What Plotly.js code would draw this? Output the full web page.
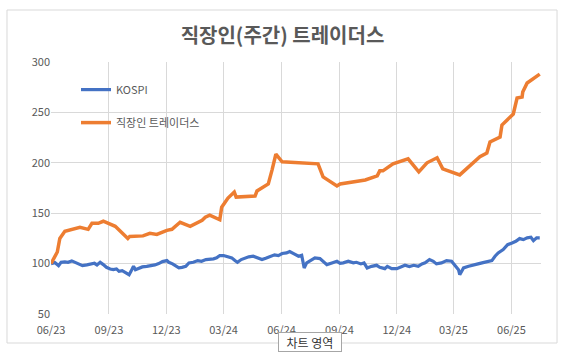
<!DOCTYPE html>
<html>
<head>
<meta charset="utf-8">
<script src="https://cdn.plot.ly/plotly-3.0.1.min.js"></script>
<style>html,body{margin:0;padding:0;background:#fff;}#chart{width:565px;height:353px;}</style>
</head>
<body>
<div id="chart"></div>
<script>
const chartTitle = "직장인(주간) 트레이더스";
const seriesNames = ["KOSPI", "직장인 트레이더스"];
const yTicks = [50, 100, 150, 200, 250, 300];

const traderDates = ["2023-06-01","2023-06-11","2023-06-15","2023-06-23","2023-07-17","2023-07-30","2023-08-05","2023-08-15","2023-08-23","2023-09-11","2023-10-01","2023-10-04","2023-10-25","2023-11-05","2023-11-16","2023-12-02","2023-12-10","2023-12-23","2024-01-08","2024-01-27","2024-02-01","2024-02-08","2024-02-24","2024-02-27","2024-03-08","2024-03-18","2024-03-21","2024-04-20","2024-04-23","2024-05-11","2024-05-17","2024-05-23","2024-06-02","2024-06-14","2024-07-29","2024-08-06","2024-08-28","2024-09-02","2024-10-12","2024-10-31","2024-11-04","2024-11-09","2024-11-25","2024-12-19","2025-01-05","2025-01-18","2025-02-03","2025-02-12","2025-03-11","2025-04-12","2025-04-23","2025-04-28","2025-05-14","2025-05-17","2025-06-04","2025-06-10","2025-06-18","2025-06-19","2025-06-26","2025-07-16"];
const traderValues = [100,111.5,125,132,136,134,140,140,142,137,125,127,127.5,130,129,133,134,141,137,143,146,148,143.5,156,165,171,166,167,172,179,193,208.5,201,200.5,199,186,177,179,183,187,192,192,199,204,191,200,205,194,188,206,209.7,220.6,225.6,237.5,248.4,264.3,265.3,270.2,279.2,288];

const kospiDates = ["2023-06-01","2023-06-07","2023-06-13","2023-06-17","2023-06-23","2023-06-28","2023-07-04","2023-07-09","2023-07-14","2023-07-21","2023-07-28","2023-08-04","2023-08-09","2023-08-13","2023-08-18","2023-08-23","2023-08-28","2023-09-03","2023-09-08","2023-09-13","2023-09-17","2023-09-22","2023-09-28","2023-10-03","2023-10-06","2023-10-10","2023-10-13","2023-10-19","2023-10-24","2023-10-31","2023-11-07","2023-11-13","2023-11-19","2023-11-25","2023-12-02","2023-12-05","2023-12-11","2023-12-16","2023-12-21","2023-12-26","2024-01-01","2024-01-06","2024-01-13","2024-01-20","2024-01-26","2024-02-02","2024-02-08","2024-02-14","2024-02-19","2024-02-24","2024-03-01","2024-03-08","2024-03-14","2024-03-19","2024-03-23","2024-03-29","2024-04-04","2024-04-10","2024-04-17","2024-04-24","2024-05-01","2024-05-07","2024-05-14","2024-05-21","2024-05-27","2024-06-02","2024-06-09","2024-06-14","2024-06-21","2024-06-28","2024-07-03","2024-07-07","2024-07-11","2024-07-16","2024-07-24","2024-08-01","2024-08-06","2024-08-12","2024-08-20","2024-08-28","2024-09-02","2024-09-07","2024-09-15","2024-09-23","2024-09-28","2024-10-05","2024-10-10","2024-10-15","2024-10-22","2024-10-30","2024-11-04","2024-11-12","2024-11-16","2024-11-23","2024-12-01","2024-12-09","2024-12-14","2024-12-21","2024-12-28","2025-01-04","2025-01-10","2025-01-15","2025-01-22","2025-01-28","2025-02-02","2025-02-10","2025-02-18","2025-02-26","2025-03-03","2025-03-09","2025-03-11","2025-03-17","2025-03-25","2025-04-02","2025-04-09","2025-04-17","2025-04-25","2025-05-01","2025-05-06","2025-05-11","2025-05-19","2025-05-26","2025-06-02","2025-06-08","2025-06-14","2025-06-20","2025-06-26","2025-07-02","2025-07-06","2025-07-11","2025-07-16"];
const kospiValues = [100,101,98,101.3,101.7,101.3,102.7,101.3,100,98,98.7,100,100.3,98.7,101.3,99,96.3,94.7,94,94.7,92.3,93,90.8,89,92.3,97.3,94,95.7,96.7,97.3,98,98.7,100,102,103,101.3,99.7,97.3,95.7,96.3,97.3,100.7,101.3,103,102.3,104,104,104.7,105.7,108,108,106.7,105.7,103,101.3,104,105.3,106.7,107.3,105.7,104,105.3,107.3,108.7,108,110,110.6,112,109.6,107.3,108.3,95.7,100.7,103,105.7,105,102.3,99,100.7,102.3,100.3,100.7,102.3,100.7,101.3,99.7,100.7,95.7,97.3,98.3,96.3,95,97.3,95,95,96.7,98.3,97,98.3,97.3,99.7,100.7,104,102.3,99.7,100.7,103,102.3,99,94,89,95.7,97.3,98.3,99.7,101,101.7,103,107.3,110.6,113.9,118.8,120.5,122.1,124.8,123.8,125.5,126.1,122.8,125.5,125.5];

const xStart = "2023-06-01";
const xEnd = "2025-07-18";

const gray = "#595959";
const font = "'Noto Sans CJK KR', 'Noto Sans', sans-serif";

const data = [
  {x: kospiDates, y: kospiValues, name: seriesNames[0], type: "scatter", mode: "lines",
   line: {color: "#4472C4", width: 3.2}, legendgroup: "a"},
  {x: traderDates, y: traderValues, name: seriesNames[1], type: "scatter", mode: "lines",
   line: {color: "#ED7D31", width: 3.5}, legendgroup: "b"}
];

const layout = {
  width: 565, height: 353,
  margin: {l: 51, r: 24, t: 62, b: 39},
  paper_bgcolor: "#ffffff", plot_bgcolor: "#ffffff",
  font: {family: font, color: gray, size: 11},
  title: {text: "<b>" + chartTitle + "</b>", x: 0.5, xref: "container", xanchor: "center",
          y: 1 - 36/353, yref: "container", yanchor: "middle",
          font: {family: font, size: 20, color: gray}},
  xaxis: {type: "date", range: [xStart, xEnd], tick0: xStart, dtick: "M3", tickformat: "%m/%y",
          showgrid: true, gridcolor: "#d9d9d9", gridwidth: 1, zeroline: false, showline: false,
          ticks: "", ticklabelstandoff: 8, tickfont: {size: 11, color: gray}},
  yaxis: {range: [50, 300], tickvals: yTicks, showgrid: true, gridcolor: "#d9d9d9", gridwidth: 1,
          zeroline: false, showline: false, ticks: "", tickfont: {size: 11, color: gray}},
  showlegend: true,
  legend: {x: 0.051, y: 0.948, xanchor: "left", yanchor: "top", bgcolor: "rgba(0,0,0,0)",
           tracegroupgap: 14, font: {size: 11, color: gray}},
  shapes: [{type: "rect", xref: "paper", yref: "paper", x0: -0.0898, x1: 1.0327, y0: -0.1151, y1: 1.2063,
            line: {color: "#d9d9d9", width: 1}, fillcolor: "rgba(0,0,0,0)", layer: "below"}],
  annotations: [{text: "차트 영역", xref: "paper", yref: "paper", x: 0.5286, y: -0.111,
                 xanchor: "center", yanchor: "middle", showarrow: false, width: 60, height: 16,
                 font: {family: font, size: 12, color: "#333333"},
                 bgcolor: "#ffffff", bordercolor: "#a6a6a6", borderwidth: 1, borderpad: 1}]
};

Plotly.newPlot("chart", data, layout, {displayModeBar: false, staticPlot: true});
</script>
</body>
</html>
